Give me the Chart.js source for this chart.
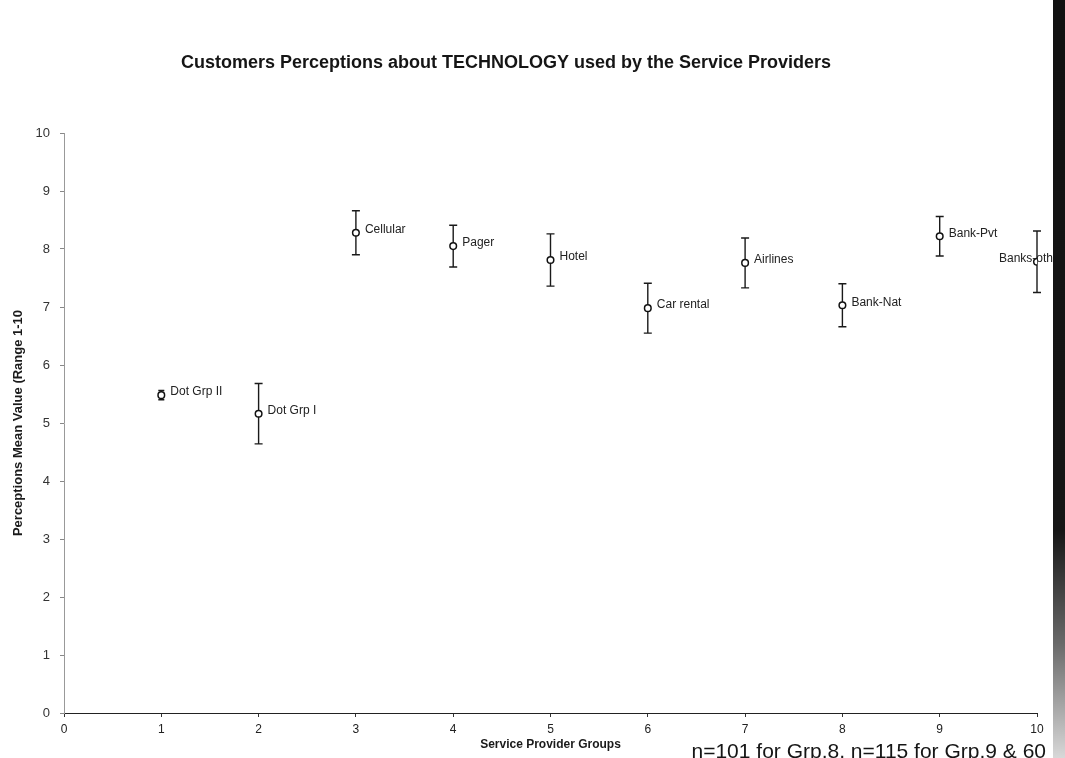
<!DOCTYPE html>
<html>
<head>
<meta charset="utf-8">
<title>Customers Perceptions about TECHNOLOGY</title>
<script src="https://cdn.jsdelivr.net/npm/chart.js@4/dist/chart.umd.min.js"></script>
<style>
  html, body { margin: 0; padding: 0; background: #ffffff; }
  #wrap { position: relative; width: 1065px; height: 758px; overflow: hidden; background: #ffffff; }
  #edge { position: absolute; top: 0; right: 0; width: 12px; height: 758px;
          background: linear-gradient(to bottom, #111 0%, #161616 70%, #6a6a6a 85%, #d8d8d8 100%); }
  canvas { position: absolute; left: 0; top: 0; }
</style>
</head>
<body>
<div id="wrap">
  <canvas id="chart" width="1065" height="758"></canvas>
  <div id="edge"></div>
</div>
<script>
// Service provider groups, their group number on the x axis,
// mean perception score and the half-width of each error bar.
const groupNames = ['Dot Grp II', 'Dot Grp I', 'Cellular', 'Pager', 'Hotel',
                    'Car rental', 'Airlines', 'Bank-Nat', 'Bank-Pvt', 'Banks-oth'];
const groupNumbers = [1, 2, 3, 4, 5, 6, 7, 8, 9, 10];
const meanValues = [5.48, 5.16, 8.28, 8.05, 7.81, 6.98, 7.76, 7.03, 8.22, 7.78];
const errorHalfWidths = [0.08, 0.52, 0.38, 0.36, 0.45, 0.43, 0.43, 0.37, 0.34, 0.53];
const xTickValues = [0, 1, 2, 3, 4, 5, 6, 7, 8, 9, 10];
const yTickValues = [0, 1, 2, 3, 4, 5, 6, 7, 8, 9, 10];

const chartTitle = 'Customers Perceptions about TECHNOLOGY used by the Service Providers';
const xAxisTitle = 'Service Provider Groups';
const yAxisTitle = 'Perceptions Mean Value (Range 1-10';
const footnote = 'n=101 for Grp.8, n=115 for Grp.9 & 60';

const FONT = '"Liberation Sans", Arial, Helvetica, sans-serif';

const points = groupNumbers.map((g, i) => ({ x: g, y: meanValues[i] }));

// Vertical error bars with caps, drawn under the markers.
const errorBarPlugin = {
  id: 'errorBars',
  beforeDatasetsDraw(chart) {
    const { ctx, scales: { x, y } } = chart;
    ctx.save();
    ctx.strokeStyle = '#1a1a1a';
    ctx.lineWidth = 1.4;
    groupNumbers.forEach((g, i) => {
      const px = x.getPixelForValue(g);
      const top = y.getPixelForValue(meanValues[i] + errorHalfWidths[i]);
      const bot = y.getPixelForValue(meanValues[i] - errorHalfWidths[i]);
      const cap = errorHalfWidths[i] < 0.15 ? 3 : 4;
      ctx.beginPath();
      ctx.moveTo(px, top); ctx.lineTo(px, bot);
      ctx.moveTo(px - cap, top); ctx.lineTo(px + cap, top);
      ctx.moveTo(px - cap, bot); ctx.lineTo(px + cap, bot);
      ctx.stroke();
    });
    ctx.restore();
  }
};

// Group name beside each marker; names that would run off the plot are pulled back over the marker.
const pointLabelPlugin = {
  id: 'pointLabels',
  afterDatasetsDraw(chart) {
    const { ctx, chartArea, scales: { x, y } } = chart;
    ctx.save();
    ctx.font = '12px ' + FONT;
    ctx.fillStyle = '#222';
    ctx.textBaseline = 'middle';
    ctx.textAlign = 'left';
    groupNumbers.forEach((g, i) => {
      const px = x.getPixelForValue(g);
      const py = y.getPixelForValue(meanValues[i]);
      const w = ctx.measureText(groupNames[i]).width;
      let tx = px + 9;
      if (tx + w > chartArea.right + 10) tx = px + 16 - w;
      ctx.fillText(groupNames[i], tx, py - 3);
    });
    ctx.restore();
  }
};

// Chart heading and the sample-size note along the bottom edge.
const annotationPlugin = {
  id: 'pageText',
  afterDraw(chart) {
    const { ctx } = chart;
    ctx.save();
    ctx.fillStyle = '#151515';
    ctx.textAlign = 'center';
    ctx.textBaseline = 'alphabetic';
    ctx.font = 'bold 18px ' + FONT;
    ctx.fillText(chartTitle, 506, 68);
    ctx.font = '21px ' + FONT;
    ctx.textAlign = 'right';
    ctx.fillText(footnote, 1046, 758);
    ctx.restore();
  }
};

new Chart(document.getElementById('chart'), {
  type: 'scatter',
  data: {
    datasets: [{
      data: points,
      pointStyle: 'circle',
      pointRadius: 3.3,
      pointHoverRadius: 3.3,
      pointBackgroundColor: '#ffffff',
      pointBorderColor: '#111',
      pointBorderWidth: 1.5,
      showLine: false
    }]
  },
  options: {
    responsive: false,
    animation: false,
    events: [],
    layout: { padding: { left: 0, right: 28, top: 133, bottom: 0 } },
    plugins: {
      legend: { display: false },
      tooltip: { enabled: false },
      title: { display: false }
    },
    scales: {
      x: {
        type: 'linear',
        min: 0,
        max: 10,
        afterBuildTicks: s => { s.ticks = xTickValues.map(v => ({ value: v })); },
        afterFit: s => { s.height = 45; },
        grid: { display: true, drawOnChartArea: false, drawTicks: true, tickLength: 4, color: '#333' },
        border: { display: true, color: '#222', width: 1 },
        ticks: { color: '#222', font: { family: FONT, size: 12 }, padding: 5, maxRotation: 0 },
        title: { display: true, text: xAxisTitle, color: '#1a1a1a',
                 font: { family: FONT, size: 12, weight: 'bold' }, padding: { top: 0, bottom: 6 } }
      },
      y: {
        type: 'linear',
        min: 0,
        max: 10,
        afterBuildTicks: s => { s.ticks = yTickValues.map(v => ({ value: v })); },
        afterFit: s => { s.width = 64; },
        grid: { display: true, drawOnChartArea: false, drawTicks: true, tickLength: 4, color: '#888' },
        border: { display: true, color: '#999', width: 1 },
        ticks: { color: '#333', font: { family: FONT, size: 13 }, padding: 10 },
        title: { display: true, text: yAxisTitle, color: '#1a1a1a',
                 font: { family: FONT, size: 13, weight: 'bold' }, padding: { top: 11, bottom: 0 } }
      }
    }
  },
  plugins: [errorBarPlugin, pointLabelPlugin, annotationPlugin]
});
</script>
</body>
</html>
